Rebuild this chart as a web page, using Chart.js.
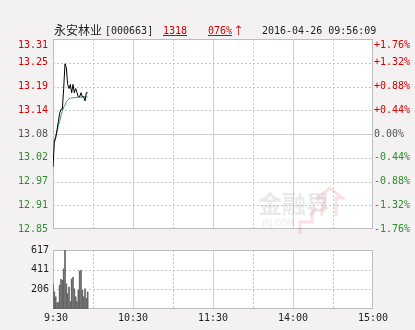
<!DOCTYPE html>
<html>
<head>
<meta charset="utf-8">
<script src="https://cdn.jsdelivr.net/npm/chart.js@4.4.1/dist/chart.umd.min.js"></script>
<style>
  body { margin: 0; background: #f3f1f1; width: 415px; height: 330px; position: relative; overflow: hidden; }
  canvas { position: absolute; left: 0; }
  #head { position: absolute; left: 0; top: 0; width: 415px; height: 40px; z-index: 2; }
  #head span { position: absolute; white-space: nowrap; font: 10px "DejaVu Sans Mono", monospace; line-height: 12px; color: #1e1e1e; }
  #head .cn { font: 12px "Noto Sans CJK SC", sans-serif; line-height: 14px; }
  #head .up { color: #d40000; text-decoration: underline; }
  #head .arrow { font: 11px "Noto Sans CJK SC", sans-serif; line-height: 12px; text-decoration: none; }
</style>
</head>
<body>
<div id="head">
  <span class="cn" style="left:54px;top:23px">永安林业</span>
  <span style="left:105px;top:25px">[000663]</span>
  <span class="up" style="left:163px;top:25px">1318</span>
  <span class="up" style="left:208px;top:25px">076%</span>
  <span class="up arrow" style="left:233px;top:24px">↑</span>
  <span style="left:262px;top:25px">2016-04-26 09:56:09</span>
</div>
<canvas id="priceChart" width="415" height="240" style="top:0"></canvas>
<canvas id="volChart" width="415" height="90" style="top:240px"></canvas>
<script>
// minutes after 9:30
const minutes = [0, 1, 2, 3, 4, 5, 6, 7, 8, 9, 10, 11, 12, 13, 14, 15, 16, 17, 18, 19, 20, 21, 22, 23, 24, 25, 26];
const price = [13.00, 13.06, 13.07, 13.09, 13.11, 13.13, 13.14, 13.14, 13.19, 13.25, 13.24, 13.20, 13.19, 13.20, 13.18,
               13.20, 13.18, 13.19, 13.18, 13.17, 13.17, 13.18, 13.17, 13.17, 13.16, 13.18, 13.18];
const avgPrice = [13.06, 13.065, 13.075, 13.085, 13.10, 13.11, 13.125, 13.135, 13.145, 13.15, 13.158, 13.162, 13.165, 13.167,
                  13.167, 13.168, 13.168, 13.168, 13.169, 13.169, 13.169, 13.169, 13.17, 13.17, 13.17, 13.17, 13.17];
const volume = [263, 179, 128, 67, 67, 250, 310, 300, 420, 617, 263, 162, 229, 78, 314,
                330, 212, 128, 78, 196, 398, 405, 196, 128, 212, 111, 179];

const priceLabels = ['12.85', '12.91', '12.97', '13.02', '13.08', '13.14', '13.19', '13.25', '13.31'];
const pctLabels = ['-1.76%', '-1.32%', '-0.88%', '-0.44%', '0.00%', '+0.44%', '+0.88%', '+1.32%', '+1.76%'];
const volTicks = [206, 411, 617];
const volLabels = ['206', '411', '617'];
const timeTicks = [0, 60, 120, 180, 240];
const timeLabels = [' 9:30', '10:30', '11:30', '14:00', '15:00'];

const priceMin = 12.85, priceMax = 13.31;
const priceTicks = priceLabels.map((_, i) => priceMin + i * (priceMax - priceMin) / 8);

const RED = '#d40000', GREEN = '#2e8b2e', GRAY = '#555555';
const tickFont = { family: '"DejaVu Sans Mono", monospace', size: 10 };
const labelColor = i => i > 4 ? RED : (i < 4 ? GREEN : GRAY);

// white plot background, mixed solid/dashed grid, frame
const gridPlugin = {
  id: 'grid',
  beforeDatasetsDraw(chart, args, opts) {
    const { ctx, chartArea: a, scales } = chart;
    ctx.save();
    ctx.fillStyle = '#ffffff';
    ctx.fillRect(a.left, a.top, a.right - a.left, a.bottom - a.top);
    ctx.lineWidth = 1;
    const line = (x1, y1, x2, y2, solid) => {
      ctx.strokeStyle = solid ? '#cfcfcf' : '#c8c8c8';
      ctx.setLineDash(solid ? [] : [2, 2]);
      ctx.beginPath();
      ctx.moveTo(x1, y1);
      ctx.lineTo(x2, y2);
      ctx.stroke();
    };
    (opts.xLines || []).forEach(([v, solid]) => {
      const x = Math.round(scales.x.getPixelForValue(v)) + 0.5;
      line(x, a.top, x, a.bottom, solid);
    });
    (opts.yLines || []).forEach(([v, solid]) => {
      const y = Math.round(scales.y.getPixelForValue(v)) + 0.5;
      line(a.left, y, a.right, y, solid);
    });
    ctx.setLineDash([]);
    ctx.strokeStyle = '#bdbdbd';
    ctx.strokeRect(Math.round(a.left) + 0.5, Math.round(a.top) + 0.5,
                   Math.round(a.right - a.left) - 1, Math.round(a.bottom - a.top) - 1);
    if (opts.watermark) {
      ctx.fillStyle = 'rgba(170,170,170,0.25)';
      ctx.font = 'bold 24px "Noto Sans CJK SC"';
      ctx.textBaseline = 'middle';
      ctx.fillText('金融界', 258, 204);
      ctx.font = '8px "DejaVu Sans"';
      ctx.fillText('JRJ.COM', 262, 224);
      ctx.strokeStyle = 'rgba(230,140,140,0.25)';
      ctx.lineWidth = 3;
      ctx.beginPath();
      ctx.moveTo(300, 234); ctx.lineTo(300, 222); ctx.lineTo(312, 222); ctx.lineTo(312, 210);
      ctx.lineTo(324, 210); ctx.lineTo(324, 198); ctx.lineTo(318, 198); ctx.lineTo(330, 188);
      ctx.lineTo(342, 198); ctx.lineTo(336, 198); ctx.lineTo(336, 216);
      ctx.stroke();
    }
    ctx.restore();
  }
};

const xGrid = [[30, false], [60, true], [90, false], [120, true], [150, false], [180, true], [210, false]];

new Chart(document.getElementById('priceChart'), {
  type: 'line',
  data: {
    datasets: [
      {
        data: minutes.map((m, i) => ({ x: m, y: price[i] })),
        borderColor: '#000000', borderWidth: 1, pointRadius: 0, tension: 0
      },
      {
        data: minutes.map((m, i) => ({ x: m, y: avgPrice[i] })),
        borderColor: '#3f9393', borderWidth: 1, pointRadius: 0, tension: 0
      }
    ]
  },
  options: {
    responsive: false,
    animation: false,
    layout: { padding: { top: 39, bottom: 8, left: 0, right: 0 } },
    plugins: {
      legend: { display: false },
      tooltip: { enabled: false },
      grid: {
        xLines: xGrid,
        yLines: priceTicks.slice(1, 8).map((v, i) => [v, i + 1 === 4]),
        watermark: true
      }
    },
    scales: {
      x: { type: 'linear', min: 0, max: 240, display: false },
      y: {
        position: 'left', min: priceMin, max: priceMax,
        afterBuildTicks: s => { s.ticks = priceTicks.map(v => ({ value: v })); },
        afterFit: s => { s.width = 53; },
        grid: { display: false, drawTicks: false },
        border: { display: false },
        ticks: {
          padding: 5, font: tickFont, autoSkip: false,
          color: c => labelColor(c.index),
          callback: (v, i) => i === 8 ? ['', priceLabels[i]] : priceLabels[i]
        }
      },
      y2: {
        position: 'right', min: priceMin, max: priceMax,
        afterBuildTicks: s => { s.ticks = priceTicks.map(v => ({ value: v })); },
        afterFit: s => { s.width = 42; },
        grid: { display: false, drawTicks: false },
        border: { display: false },
        ticks: {
          padding: 1, font: tickFont, autoSkip: false,
          color: c => labelColor(c.index),
          callback: (v, i) => i === 8 ? ['', pctLabels[i]] : pctLabels[i]
        }
      }
    }
  },
  plugins: [gridPlugin]
});

new Chart(document.getElementById('volChart'), {
  type: 'bar',
  data: {
    datasets: [{
      data: minutes.map((m, i) => ({ x: m, y: volume[i] })),
      backgroundColor: '#666666', barThickness: 1
    }]
  },
  options: {
    responsive: false,
    animation: false,
    layout: { padding: { top: 8, bottom: 0, left: 0, right: 42 } },
    plugins: {
      legend: { display: false },
      tooltip: { enabled: false },
      grid: { xLines: xGrid, yLines: [[206, false], [411, false]] }
    },
    scales: {
      x: {
        type: 'linear', min: 0, max: 240, offset: false,
        afterBuildTicks: s => { s.ticks = timeTicks.map(v => ({ value: v })); },
        afterFit: s => { s.height = 21; },
        grid: { display: false, drawTicks: false },
        border: { display: false },
        ticks: {
          padding: 3, font: tickFont, color: '#1e1e1e', autoSkip: false, maxRotation: 0,
          callback: (v, i) => timeLabels[i]
        }
      },
      y: {
        min: 0, max: 617,
        afterBuildTicks: s => { s.ticks = volTicks.map(v => ({ value: v })); },
        afterFit: s => { s.width = 53; },
        grid: { display: false, drawTicks: false },
        border: { display: false },
        ticks: { padding: 4, font: tickFont, color: '#1e1e1e', autoSkip: false, callback: (v, i) => volLabels[i] }
      }
    }
  },
  plugins: [gridPlugin]
});
</script>
</body>
</html>
